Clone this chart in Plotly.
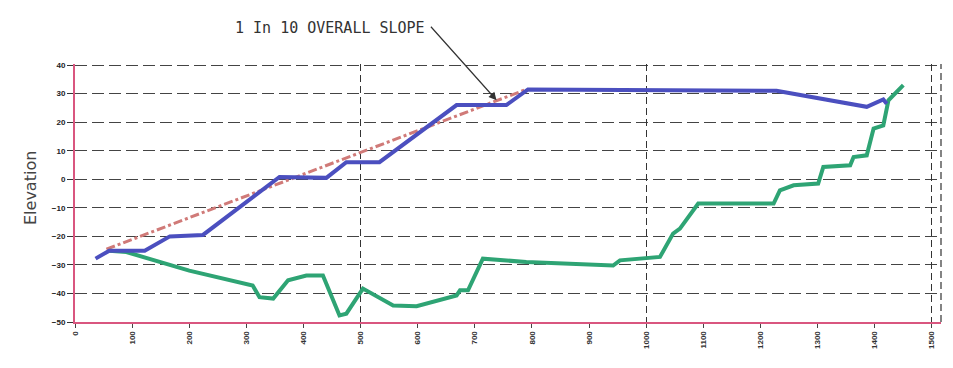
import plotly.graph_objects as go

# Ground profile (blue)
blue_x = [36, 60, 122, 166, 224, 358, 440, 475, 533, 668, 726, 755, 793, 1228, 1386, 1415, 1421]
blue_y = [-27.8, -25, -25, -20, -19.5, 0.8, 0.5, 6, 6, 26, 26, 26, 31.5, 31, 25.4, 28, 26.5]

# Second profile (green)
green_x = [60, 90, 200, 311, 323, 347, 373, 405, 434, 463, 475, 504, 557, 598, 668, 674, 688, 714,
           790, 942, 954, 1024, 1047, 1059, 1091, 1223, 1234, 1258, 1301, 1310, 1357, 1363,
           1386, 1398, 1415, 1424, 1450]
green_y = [-25, -25.5, -32, -37.2, -41.3, -41.8, -35.4, -33.7, -33.7, -47.7, -47.1, -38.3, -44.2,
           -44.5, -40.7, -38.9, -38.9, -27.8, -29, -30.2, -28.4, -27.2, -19, -17.3, -8.5,
           -8.5, -3.9, -2.1, -1.5, 4.3, 4.9, 7.8, 8.4, 17.8, 18.9, 27.7, 33]

# Overall slope line (red dash-dot)
slope_x = [55, 790]
slope_y = [-24.5, 31.5]

x_ticks = list(range(0, 1501, 100))
y_ticks = list(range(-50, 41, 10))

annot_text = "1 In 10 OVERALL SLOPE"
annot_x, annot_y = 738, 27.7

fig = go.Figure()
fig.add_trace(go.Scatter(x=slope_x, y=slope_y, mode="lines",
                         line=dict(color="#d07a78", width=3, dash="dashdot")))
fig.add_trace(go.Scatter(x=green_x, y=green_y, mode="lines",
                         line=dict(color="#2ea474", width=4)))
fig.add_trace(go.Scatter(x=blue_x, y=blue_y, mode="lines",
                         line=dict(color="#4b4fbf", width=4)))

fig.update_layout(
    width=953, height=368,
    margin=dict(l=67, r=20, t=56, b=54),
    plot_bgcolor="white", paper_bgcolor="white",
    showlegend=False,
    font=dict(family="Liberation Sans", color="#333"),
    xaxis=dict(range=[0, 1516], tickvals=x_ticks, ticktext=[str(v) for v in x_ticks],
               tickangle=-90, tickfont=dict(size=8, color="#333", weight="bold"),
               showgrid=False, zeroline=False,
               showline=True, linecolor="#d9567f", linewidth=2,
               ticks="outside", ticklen=4, tickcolor="#444"),
    xaxis2=dict(range=[0, 1516], overlaying="x", side="bottom", tickvals=[500, 1000, 1500],
                showticklabels=False, showgrid=True, gridcolor="#333", gridwidth=1.2,
                griddash="7px,4px", zeroline=False, showline=False),
    yaxis=dict(range=[-50, 40.4], tickvals=y_ticks,
               tickfont=dict(size=8, color="#222", weight="bold"),
               showgrid=True, gridcolor="#444", gridwidth=1.3, griddash="12px,5px",
               zeroline=False, showline=True, linecolor="#d9567f", linewidth=2,
               ticks="outside", ticklen=6, tickcolor="#333"),
)
# invisible trace so the overlay axis carrying the 500-step grid is drawn
fig.add_trace(go.Scatter(x=[0], y=[-50], xaxis="x2", mode="markers",
                         marker=dict(opacity=0), hoverinfo="skip"))

fig.add_shape(type="line", xref="paper", yref="paper", x0=1, x1=1, y0=0, y1=1,
              line=dict(color="#333", width=1.2, dash="7px,4px"))

fig.add_annotation(x=annot_x, y=annot_y, xref="x", yref="y", text="",
                   showarrow=True, ax=-67, ay=-75, arrowhead=2, arrowsize=1.3,
                   arrowwidth=1.2, arrowcolor="#333")
fig.add_annotation(x=(427 - 75) / 866, y=(322 - 28) / 258, xref="paper", yref="paper",
                   text=annot_text, showarrow=False, xanchor="right", yanchor="middle",
                   font=dict(family="DejaVu Sans Mono", size=15, color="#333"))
fig.add_annotation(x=(30 - 75) / 866, y=(322 - 188) / 258, xref="paper", yref="paper",
                   text="Elevation", showarrow=False, textangle=-90,
                   xanchor="center", yanchor="middle",
                   font=dict(family="DejaVu Sans", size=16, color="#444"))

fig.write_html("out.html")
